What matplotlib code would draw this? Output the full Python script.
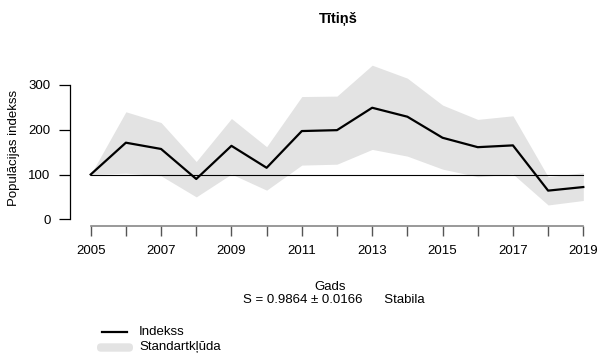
import matplotlib
matplotlib.use("Agg")
import matplotlib.pyplot as plt
from matplotlib.patches import FancyBboxPatch
from matplotlib.transforms import IdentityTransform

plt.rcParams['font.family'] = ['Liberation Sans', 'DejaVu Sans']

years = list(range(2005, 2020))
index = [100, 171, 157, 90, 164, 115, 197, 199, 249, 229, 182, 161, 165, 64, 72]
upper = [100, 240, 216, 129, 225, 162, 274, 275, 344, 315, 255, 223, 231, 95, 104]
lower = [100, 103, 97, 50, 101, 65, 121, 123, 156, 141, 112, 95, 101, 32, 42]
yticks = [0, 100, 200, 300]
xticks = [2005, 2007, 2009, 2011, 2013, 2015, 2017, 2019]

title = "Tītiņš"
ylabel = "Populācijas indekss"
xlabel = "Gads"
trend = "S = 0.9864 ± 0.0166      Stabila"

W, H = 599, 357
fig = plt.figure(figsize=(W / 100, H / 100), dpi=100)

# axes box in pixel coordinates
left_px, right_px, top_px, bottom_px = 70, 590, 60, 226
ax = fig.add_axes([left_px / W, 1 - bottom_px / H,
                   (right_px - left_px) / W, (bottom_px - top_px) / H])

px_per_year = 35.2
px_per_unit = 0.448
x0 = 2005 - (90.7 - left_px) / px_per_year
x1 = 2019 + (right_px - 583.3) / px_per_year
y0 = (219.3 - bottom_px) / px_per_unit
y1 = (219.3 - top_px) / px_per_unit
ax.set_xlim(x0, x1)
ax.set_ylim(y0, y1)

ax.fill_between(years, lower, upper, color='#e3e3e3', linewidth=0)
ax.plot([years[0], years[-1]], [100, 100], color='black', linewidth=0.8)
ax.plot(years, index, color='black', linewidth=1.6)

for s in ['top', 'right']:
    ax.spines[s].set_visible(False)
ax.spines['left'].set_bounds(0, 300)
ax.spines['left'].set_linewidth(0.9)
ax.spines['bottom'].set_bounds(2005, 2019)
ax.spines['bottom'].set_color('#888888')
ax.spines['bottom'].set_linewidth(1.2)

ax.set_yticks(yticks)
ax.set_yticklabels([str(v) for v in yticks])
ax.set_xticks(years)
ax.set_xticklabels([str(y) if y in xticks else '' for y in years])
ax.tick_params(axis='y', length=8, width=0.9, labelsize=9.5, pad=6, colors='black')
ax.tick_params(axis='x', length=7, width=1.0, color='#555555', labelsize=9.5,
               pad=7, labelcolor='black')

fig.text(338 / W, 1 - 23 / H, title, ha='center', va='baseline',
         fontsize=10.5, fontweight='bold')
fig.text(14.5 / W, 1 - 148 / H, ylabel, rotation=90, ha='center', va='center',
         fontsize=9.5)
fig.text(330 / W, 1 - 290 / H, xlabel, ha='center', va='baseline', fontsize=9.5)
fig.text(334 / W, 1 - 303.3 / H, trend, ha='center', va='baseline', fontsize=9.5)

# legend
fig.add_artist(plt.Line2D([101.7 / W, 126.7 / W], [1 - 332.3 / H, 1 - 332.3 / H],
                          color='black', linewidth=1.6))
fig.text(139 / W, 1 - 332.3 / H, "Indekss", ha='left', va='center', fontsize=9.5)
fig.add_artist(FancyBboxPatch((97, H - 351.7), 36, 8.4,
                              boxstyle="round,pad=0,rounding_size=4",
                              transform=IdentityTransform(), color='#e3e3e3',
                              linewidth=0))
fig.text(139 / W, 1 - 347.3 / H, "Standartkļūda", ha='left', va='center', fontsize=9.5)

fig.savefig("out.png", dpi=100)
